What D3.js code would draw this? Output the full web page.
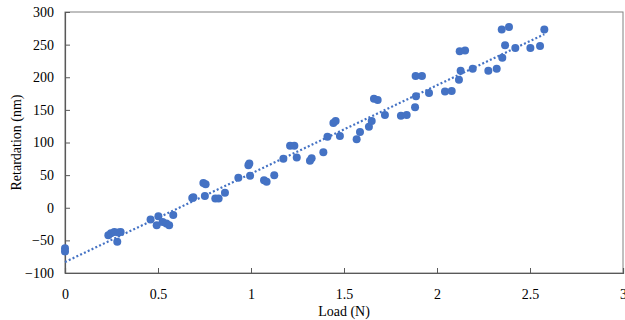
<!DOCTYPE html>
<html>
<head>
<meta charset="utf-8">
<script src="https://cdn.jsdelivr.net/npm/d3@7"></script>
<style>
  body { margin: 0; background: #fff; }
  svg text { font-family: "Liberation Serif", "Times New Roman", serif; fill: #000; }
</style>
</head>
<body>
<svg id="chart" width="625" height="320"></svg>
<script>
// Data
const load = [0, 0, 0.233, 0.247, 0.265, 0.281, 0.287, 0.299, 0.46, 0.493, 0.502, 0.525, 0.545, 0.56, 0.582,
  0.684, 0.69, 0.744, 0.756, 0.752, 0.808, 0.826, 0.86, 0.932, 0.986, 0.991, 0.995, 1.07, 1.084, 1.125,
  1.174, 1.21, 1.233, 1.246, 1.317, 1.326, 1.389, 1.411, 1.443, 1.455, 1.478, 1.568, 1.586, 1.634, 1.649,
  1.661, 1.681, 1.72, 1.806, 1.837, 1.882, 1.887, 1.885, 1.919, 1.957, 2.043, 2.079, 2.118, 2.127, 2.122,
  2.151, 2.192, 2.276, 2.321, 2.351, 2.348, 2.387, 2.366, 2.421, 2.502, 2.554, 2.577];
const retardation = [-62, -67, -42, -39, -37, -52, -38, -37, -18, -27, -13, -22, -24, -27, -11,
  15, 16, 38, 36, 18, 14, 14, 23, 46, 65, 68, 49, 42, 40, 50,
  75, 95, 95, 77, 72, 76, 85, 109, 130, 133, 110, 105, 116, 124, 133,
  167, 165, 142, 141, 142, 154, 171, 202, 202, 176, 178, 179, 196, 210, 240,
  241, 213, 210, 213, 230, 273, 277, 249, 245, 245, 248, 273];
const xTicks = [0, 0.5, 1, 1.5, 2, 2.5, 3];
const yTicks = [-100, -50, 0, 50, 100, 150, 200, 250, 300];
const xTitle = "Load (N)";
const yTitle = "Retardation (nm)";

(function () {
const color = "#4472C4";
const axisColor = "#808080";
const mLeft = 65, mRight = 623, mTop = 12, mBottom = 273;

const svg = d3.select("#chart");
const x = d3.scaleLinear().domain([0, 3]).range([mLeft, mRight]);
const y = d3.scaleLinear().domain([-100, 300]).range([mBottom, mTop]);

// Frame
svg.append("rect")
  .attr("x", mLeft).attr("y", mTop)
  .attr("width", mRight - mLeft).attr("height", mBottom - mTop)
  .attr("fill", "none").attr("stroke", axisColor).attr("stroke-width", 1);

// Axes with inward ticks
const xAxis = svg.append("g").attr("transform", `translate(0,${mBottom})`)
  .call(d3.axisBottom(x).tickValues(xTicks).tickSize(-5).tickPadding(14).tickFormat(d3.format("")));
const yAxis = svg.append("g").attr("transform", `translate(${mLeft},0)`)
  .call(d3.axisLeft(y).tickValues(yTicks).tickSize(-5).tickPadding(11).tickFormat(d3.format("")));
[xAxis, yAxis].forEach(g => {
  g.select(".domain").attr("stroke", "#595959").attr("stroke-width", 1.2);
  g.selectAll(".tick line").attr("stroke", "#595959");
  g.selectAll(".tick text").attr("font-size", 14).attr("font-family", "Liberation Serif").attr("fill", "#000");
});
xAxis.selectAll(".tick text").attr("dy", "0.71em").attr("y", 16);

// Linear regression trendline
const n = load.length;
const mx = d3.mean(load), my = d3.mean(retardation);
let sxy = 0, sxx = 0;
for (let i = 0; i < n; i++) { sxy += (load[i] - mx) * (retardation[i] - my); sxx += (load[i] - mx) ** 2; }
const slope = sxy / sxx, intercept = my - slope * mx;
const xr = [d3.min(load), d3.max(load)];
svg.append("line")
  .attr("x1", x(xr[0])).attr("y1", y(intercept + slope * xr[0]))
  .attr("x2", x(xr[1])).attr("y2", y(intercept + slope * xr[1]))
  .attr("stroke", color).attr("stroke-width", 2.2)
  .attr("stroke-dasharray", "2,2.2");

// Points
svg.append("g").selectAll("circle")
  .data(load.map((d, i) => [d, retardation[i]]))
  .join("circle")
  .attr("cx", d => x(d[0])).attr("cy", d => y(d[1]))
  .attr("r", 4).attr("fill", color);

// Titles
svg.append("text").attr("x", (mLeft + mRight) / 2).attr("y", 316)
  .attr("text-anchor", "middle").attr("font-size", 14).text(xTitle);
svg.append("text")
  .attr("transform", `translate(21,${(mTop + mBottom) / 2}) rotate(-90)`)
  .attr("text-anchor", "middle").attr("font-size", 14).text(yTitle);
})();
</script>
</body>
</html>
